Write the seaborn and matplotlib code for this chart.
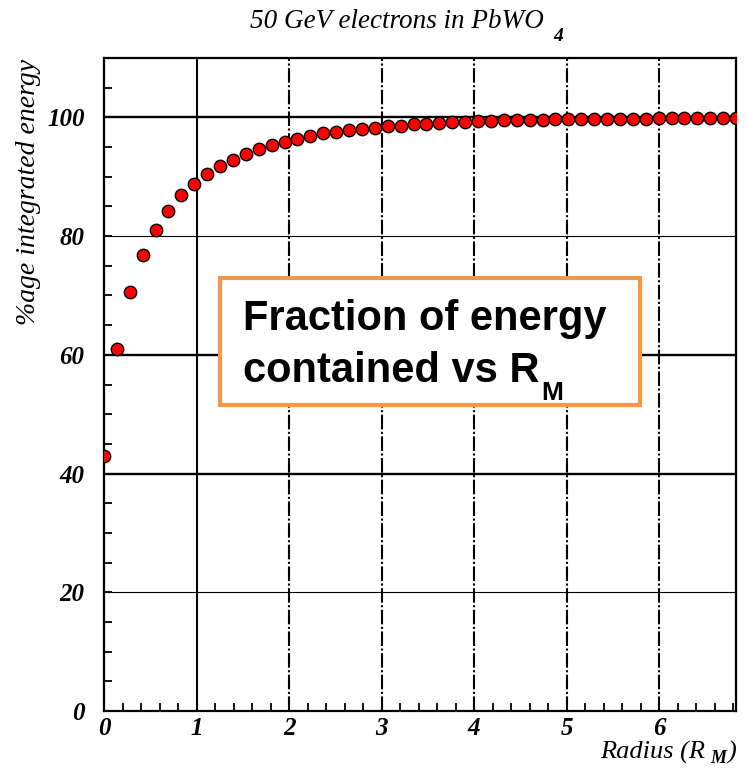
import matplotlib
matplotlib.use("Agg")
import matplotlib.pyplot as plt
import seaborn as sns
import pandas as pd
from matplotlib.patches import Rectangle
from matplotlib.ticker import MultipleLocator

radius = [0.000, 0.139, 0.279, 0.418, 0.558, 0.697, 0.836, 0.976, 1.115, 1.255,
          1.394, 1.533, 1.673, 1.812, 1.952, 2.091, 2.230, 2.370, 2.509, 2.649,
          2.788, 2.927, 3.067, 3.206, 3.346, 3.485, 3.624, 3.764, 3.903, 4.043,
          4.182, 4.321, 4.461, 4.600, 4.740, 4.879, 5.018, 5.158, 5.297, 5.437,
          5.576, 5.715, 5.855, 5.994, 6.134, 6.273, 6.412, 6.552, 6.691, 6.830]
energy = [43.0, 61.0, 70.6, 76.8, 81.1, 84.3, 86.9, 88.7, 90.5, 91.8,
          92.9, 93.9, 94.6, 95.4, 95.9, 96.3, 96.8, 97.3, 97.5, 97.9,
          98.0, 98.2, 98.5, 98.6, 98.8, 98.9, 99.1, 99.2, 99.3, 99.4,
          99.4, 99.5, 99.5, 99.55, 99.6, 99.65, 99.7, 99.7, 99.75, 99.75,
          99.8, 99.8, 99.8, 99.85, 99.85, 99.85, 99.9, 99.9, 99.9, 99.9]
xticks = [0, 1, 2, 3, 4, 5, 6]
yticks = [0, 20, 40, 60, 80, 100]
title_main = "50 GeV electrons in PbWO"
title_sub = "4"
ylabel = "%age integrated energy"
xlabel_main = "Radius (R"
xlabel_sub = "M"
xlabel_end = ")"
box_line1 = "Fraction of energy"
box_line2 = "contained vs R"
box_sub = "M"

sns.set_theme(style="white")
plt.rcParams['font.family'] = ['Liberation Serif', 'DejaVu Serif']

df = pd.DataFrame({"radius": radius, "energy": energy})

W, H = 747, 769
fig = plt.figure(figsize=(W / 100, H / 100), dpi=100)
fig.patch.set_facecolor("white")
ax = fig.add_axes([104 / W, 1 - 711 / H, (736 - 104) / W, (711 - 58) / H])
ax.set_facecolor("white")

# grid lines
thick = {100: 1.7, 80: 0.8, 60: 1.7, 40: 1.7, 20: 0.8}
for yv in yticks[1:]:
    ax.axhline(yv, color="black", lw=thick[yv], zorder=1)
for xv in xticks[1:]:
    if xv == 1:
        ax.axvline(xv, color="black", lw=1.5, zorder=1)
    else:
        ax.axvline(xv, color="black", lw=1.5, zorder=1, linestyle=(0, (7, 1.2, 1, 1.2)))

sns.scatterplot(data=df, x="radius", y="energy", ax=ax, color="#ff0000",
                edgecolor="black", linewidth=1.0, s=80, zorder=3, legend=False)

ax.set_xlim(0, 6.83)
ax.set_ylim(0, 110)
ax.set_xticks(xticks)
ax.set_yticks(yticks)
ax.xaxis.set_minor_locator(MultipleLocator(0.2))
ax.yaxis.set_minor_locator(MultipleLocator(5))
ax.tick_params(axis="both", which="both", direction="in", color="black",
               top=False, right=False, bottom=True, left=True)
ax.tick_params(axis="both", which="major", length=6, width=1.3)
ax.tick_params(axis="both", which="minor", length=6, width=1.3)
ax.tick_params(axis="x", pad=4)
ax.tick_params(axis="y", pad=14)
for lab in ax.get_xticklabels() + ax.get_yticklabels():
    lab.set_fontfamily("Liberation Serif")
    lab.set_fontstyle("italic")
    lab.set_fontweight("bold")
    lab.set_fontsize(18)
    lab.set_color("black")
ax.set_xlabel("")
ax.set_ylabel("")
for sp in ax.spines.values():
    sp.set_visible(True)
    sp.set_color("black")
    sp.set_linewidth(1.6)

fkw = dict(family="Liberation Serif", style="italic", color="black")

# title
fig.canvas.draw()
r = fig.canvas.get_renderer()
t = fig.text(250 / W, 1 - 28 / H, title_main, ha="left", va="baseline", fontsize=19.5, **fkw)
bb = t.get_window_extent(r)
fig.text((bb.x1 + 9) / W, (bb.y0 - 7) / H, title_sub, ha="left", va="baseline", fontsize=14,
         weight="bold", **fkw)

# y label
fig.text(29 / W, 1 - 192 / H, ylabel, rotation=90, ha="center", va="center", fontsize=20, **fkw)

# x label
xl = fig.text(600 / W, 1 - 759 / H, xlabel_main, ha="left", va="baseline", fontsize=19, **fkw)
bb = xl.get_window_extent(r)
base_y = 769 - 759
xs = fig.text((bb.x1 + 5) / W, (base_y - 4) / H, xlabel_sub, ha="left", va="baseline",
              fontsize=13, weight="bold", **fkw)
bb2 = xs.get_window_extent(r)
fig.text((bb2.x1 + 1) / W, base_y / H, xlabel_end, ha="left", va="baseline", fontsize=19, **fkw)

# annotation box
rect = Rectangle((220 / W, 1 - 405 / H), (640 - 220) / W, (405 - 278) / H,
                 transform=fig.transFigure, facecolor="white", edgecolor="#f79646",
                 linewidth=3, zorder=5)
fig.patches.append(rect)
bkw = dict(family="Liberation Sans", weight="bold", color="black", zorder=6)
fig.text(243 / W, 1 - 330 / H, box_line1, ha="left", va="baseline", fontsize=30, **bkw)
l2 = fig.text(243 / W, 1 - 382 / H, box_line2, ha="left", va="baseline", fontsize=30, **bkw)
bb = l2.get_window_extent(r)
fig.text((bb.x1 + 2) / W, (bb.y0 - 9) / H, box_sub, ha="left", va="baseline", fontsize=19, **bkw)

fig.savefig("out.png", dpi=100, facecolor="white")
